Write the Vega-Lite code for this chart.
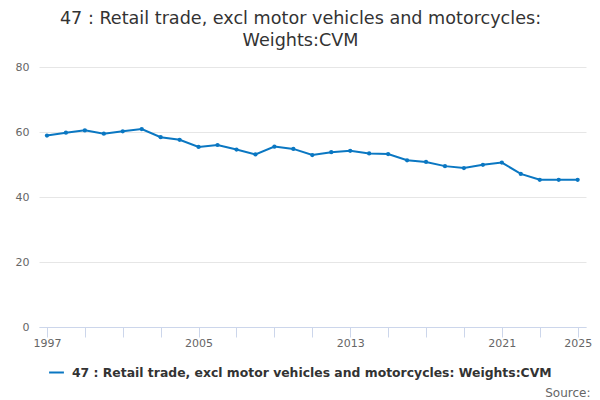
{
  "$schema": "https://vega.github.io/schema/vega-lite/v6.json",
  "autosize": {"type": "none"},
  "width": 547,
  "height": 260,
  "padding": {"left": 39, "top": 67, "right": 14, "bottom": 73},
  "background": "white",
  "config": {
    "font": "DejaVu Sans",
    "view": {"stroke": null}
  },
  "title": {
    "text": ["47 : Retail trade, excl motor vehicles and motorcycles:", "Weights:CVM"],
    "font": "DejaVu Sans",
    "fontSize": 17.6,
    "fontWeight": "normal",
    "color": "#333333",
    "anchor": "middle",
    "dx": -12,
    "offset": 11,
    "lineHeight": 22
  },
  "data": {
    "values": [
      {"year": 1997, "value": 58.9, "series": "47 : Retail trade, excl motor vehicles and motorcycles: Weights:CVM"},
      {"year": 1998, "value": 59.8, "series": "47 : Retail trade, excl motor vehicles and motorcycles: Weights:CVM"},
      {"year": 1999, "value": 60.5, "series": "47 : Retail trade, excl motor vehicles and motorcycles: Weights:CVM"},
      {"year": 2000, "value": 59.5, "series": "47 : Retail trade, excl motor vehicles and motorcycles: Weights:CVM"},
      {"year": 2001, "value": 60.2, "series": "47 : Retail trade, excl motor vehicles and motorcycles: Weights:CVM"},
      {"year": 2002, "value": 60.9, "series": "47 : Retail trade, excl motor vehicles and motorcycles: Weights:CVM"},
      {"year": 2003, "value": 58.4, "series": "47 : Retail trade, excl motor vehicles and motorcycles: Weights:CVM"},
      {"year": 2004, "value": 57.6, "series": "47 : Retail trade, excl motor vehicles and motorcycles: Weights:CVM"},
      {"year": 2005, "value": 55.4, "series": "47 : Retail trade, excl motor vehicles and motorcycles: Weights:CVM"},
      {"year": 2006, "value": 56.0, "series": "47 : Retail trade, excl motor vehicles and motorcycles: Weights:CVM"},
      {"year": 2007, "value": 54.6, "series": "47 : Retail trade, excl motor vehicles and motorcycles: Weights:CVM"},
      {"year": 2008, "value": 53.1, "series": "47 : Retail trade, excl motor vehicles and motorcycles: Weights:CVM"},
      {"year": 2009, "value": 55.5, "series": "47 : Retail trade, excl motor vehicles and motorcycles: Weights:CVM"},
      {"year": 2010, "value": 54.8, "series": "47 : Retail trade, excl motor vehicles and motorcycles: Weights:CVM"},
      {"year": 2011, "value": 52.9, "series": "47 : Retail trade, excl motor vehicles and motorcycles: Weights:CVM"},
      {"year": 2012, "value": 53.8, "series": "47 : Retail trade, excl motor vehicles and motorcycles: Weights:CVM"},
      {"year": 2013, "value": 54.2, "series": "47 : Retail trade, excl motor vehicles and motorcycles: Weights:CVM"},
      {"year": 2014, "value": 53.4, "series": "47 : Retail trade, excl motor vehicles and motorcycles: Weights:CVM"},
      {"year": 2015, "value": 53.2, "series": "47 : Retail trade, excl motor vehicles and motorcycles: Weights:CVM"},
      {"year": 2016, "value": 51.3, "series": "47 : Retail trade, excl motor vehicles and motorcycles: Weights:CVM"},
      {"year": 2017, "value": 50.8, "series": "47 : Retail trade, excl motor vehicles and motorcycles: Weights:CVM"},
      {"year": 2018, "value": 49.5, "series": "47 : Retail trade, excl motor vehicles and motorcycles: Weights:CVM"},
      {"year": 2019, "value": 48.9, "series": "47 : Retail trade, excl motor vehicles and motorcycles: Weights:CVM"},
      {"year": 2020, "value": 49.9, "series": "47 : Retail trade, excl motor vehicles and motorcycles: Weights:CVM"},
      {"year": 2021, "value": 50.6, "series": "47 : Retail trade, excl motor vehicles and motorcycles: Weights:CVM"},
      {"year": 2022, "value": 47.1, "series": "47 : Retail trade, excl motor vehicles and motorcycles: Weights:CVM"},
      {"year": 2023, "value": 45.3, "series": "47 : Retail trade, excl motor vehicles and motorcycles: Weights:CVM"},
      {"year": 2024, "value": 45.3, "series": "47 : Retail trade, excl motor vehicles and motorcycles: Weights:CVM"},
      {"year": 2025, "value": 45.3, "series": "47 : Retail trade, excl motor vehicles and motorcycles: Weights:CVM"}
    ]
  },
  "mark": {"type": "line", "strokeWidth": 2, "point": {"size": 18, "filled": true}},
  "encoding": {
    "x": {
      "field": "year",
      "type": "quantitative",
      "scale": {"domain": [1996.58, 2025.44], "nice": false, "zero": false},
      "axis": {
        "values": [1997, 1999, 2001, 2003, 2005, 2007, 2009, 2011, 2013, 2015, 2017, 2019, 2021, 2023, 2025],
        "labelExpr": "indexof([1997, 2005, 2013, 2021, 2025], datum.value) >= 0 ? '' + datum.value : ''",
        "grid": false,
        "domainColor": "#ccd6eb",
        "tickColor": "#ccd6eb",
        "tickSize": 10,
        "labelColor": "#666666",
        "labelFontSize": 11,
        "labelPadding": 0,
        "labelFlush": false,
        "labelOverlap": false,
        "title": "Source:",
        "titleFontWeight": "normal",
        "titleFontSize": 12,
        "titleColor": "#666666",
        "titleAnchor": "end",
        "titleAlign": "right",
        "titleBaseline": "middle",
        "titleX": 551,
        "titleY": 65
      }
    },
    "y": {
      "field": "value",
      "type": "quantitative",
      "scale": {"domain": [0, 80], "nice": false},
      "axis": {
        "values": [0, 20, 40, 60, 80],
        "domain": false,
        "ticks": false,
        "gridColor": "#e6e6e6",
        "labelColor": "#666666",
        "labelFontSize": 11,
        "labelPadding": 10,
        "title": null
      }
    },
    "color": {
      "field": "series",
      "type": "nominal",
      "scale": {"range": ["#0a77c2"]},
      "legend": {
        "orient": "none",
        "legendX": 9,
        "legendY": 297,
        "title": null,
        "labelFontSize": 12.4,
        "labelFontWeight": "bold",
        "labelColor": "#333333",
        "labelLimit": 600,
        "labelOffset": 7,
        "symbolType": "stroke",
        "symbolSize": 220,
        "symbolStrokeWidth": 2
      }
    }
  }
}
